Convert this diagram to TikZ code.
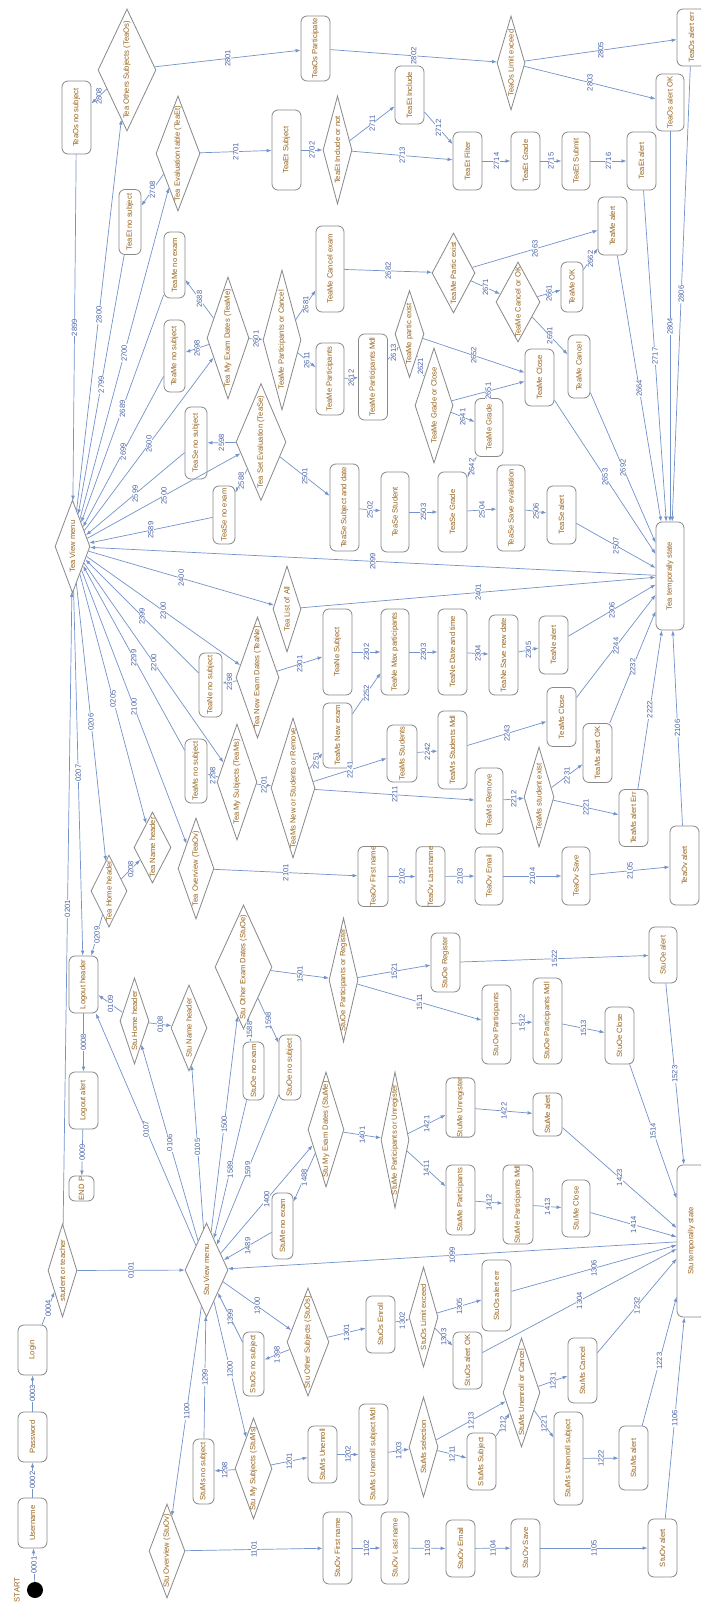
\documentclass[tikz,border=0pt]{standalone}
\usepackage{fontspec}
\setmainfont{Liberation Sans}
\usetikzlibrary{shapes.geometric,arrows.meta}
\definecolor{edgec}{HTML}{7493CC}
\definecolor{labc}{HTML}{4A64A8}
\definecolor{txtc}{HTML}{96621A}
\definecolor{bordc}{HTML}{8A8A8A}
\def\U{0.03cm}
\tikzset{
 bx/.style={draw=bordc, line width=0.7pt, rounded corners=1.8mm, rotate=90, inner sep=0pt, text=txtc, font=\fontsize{6.5}{7}\selectfont},
 dia/.style={draw=bordc, line width=0.7pt, diamond, rotate=90, inner sep=0pt},
 dtxt/.style={rotate=90, inner sep=0pt, text=txtc, font=\fontsize{6.5}{7}\selectfont},
 ed/.style={draw=edgec, line width=0.6pt, -{Latex[length=1.5mm,width=1.1mm]}},
 lab/.style={rotate=90, fill=white, inner sep=0.4pt, text=labc, font=\fontsize{6.5}{7}\selectfont},
}
\newcommand{\mkB}[6]{\node[bx, minimum width=#5*\U, minimum height=#4*\U] (#1) at (#2,#3) {#6};}
\newcommand{\mkD}[6]{\node[dia, minimum width=#5*\U, minimum height=#4*\U] (#1) at (#2,#3) {}; \node[dtxt] at (#1.center) {#6};}
\newcommand{\mkE}[3]{\draw[ed] (#1) -- node[lab]{#3} (#2);}
\begin{document}
\begin{tikzpicture}[x=0.03cm,y=-0.03cm]
\fill[white] (0,0) rectangle (700,1605);
\useasboundingbox (0,0) rectangle (700,1605);
% ---------- boxes ----------
\mkB{teaOsNo}{76.5}{117.5}{29}{73}{TeaOs no subject}
\mkB{teaOsPart}{315.5}{48.5}{29}{65}{TeaOs Participate}
\mkB{teaOsErr}{691.5}{37.5}{29}{57}{TeaOs alert err}
\mkB{teaOsOK}{670}{102.5}{28}{57}{TeaOs alert OK}
\mkB{teaEtNo}{130}{222}{22}{65}{TeaEt no subject}
\mkB{teaEtSub}{286.5}{150}{29}{80}{TeaEt Subject}
\mkB{teaEtInc}{409.5}{95}{29}{58}{TeaEt Include}
\mkB{teaEtFil}{467.5}{161}{29}{58}{TeaEt Filter}
\mkB{teaEtGr}{525.5}{161}{29}{58}{TeaEt Grade}
\mkB{teaEtSubm}{576}{161}{28}{58}{TeaEt Submit}
\mkB{teaEtAl}{641.5}{161}{29}{58}{TeaEt alert}
\mkB{teaMeNoEx}{174.5}{265}{21}{66}{TeaMe no exam}
\mkB{teaMeNoSub}{174.5}{356}{21}{72}{TeaMe no subject}
\mkB{teaMeCanEx}{330}{269}{28}{86}{TeaMe Cancel exam}
\mkB{teaMePart}{330}{379}{28}{72}{TeaMe Participants}
\mkB{teaMeMdl}{373}{377}{29}{86}{TeaMe Participants Mdl}
\mkB{teaMeGr}{489}{427.5}{28}{58}{TeaMe Grade}
\mkB{teaMeClose}{539.5}{377.5}{29}{57}{TeaMe Close}
\mkB{teaMeOK}{572}{287}{22}{50}{TeaMe OK}
\mkB{teaMeCan}{579}{366.5}{22}{63}{TeaMe Cancel}
\mkB{teaMeAl}{612.5}{226}{29}{58}{TeaMe alert}
\mkB{teaSeNoSub}{196}{443}{22}{72}{TeaSe no subject}
\mkB{teaSeNoEx}{224}{515}{22}{58}{TeaSe no exam}
\mkB{teaSeSub}{344.5}{507.5}{29}{87}{TeaSe Subject and date}
\mkB{teaSeStu}{395}{512}{28}{80}{TeaSe Student}
\mkB{teaSeGr}{452.5}{512}{29}{80}{TeaSe Grade}
\mkB{teaSeSave}{511}{508}{28}{86}{TeaSe Save evaluation}
\mkB{teaSeAl}{561.5}{515}{29}{58}{TeaSe alert}
\mkB{teaTemp}{670}{576}{28}{108}{Tea temporally state}
\mkB{teaNeNoSub}{210.5}{685}{23}{64}{TeaNe no subject}
\mkB{teaNeSub}{337.5}{652}{29}{86}{TeaNe Subject}
\mkB{teaNeMax}{395}{652}{28}{86}{TeaNe Max participants}
\mkB{teaNeDate}{452.5}{652}{29}{86}{TeaNe Date and time}
\mkB{teaNeSave}{503.5}{655}{29}{80}{TeaNe Save new date}
\mkB{teaNeAl}{553.5}{645}{29}{58}{TeaNe alert}
\mkB{teaMsNoSub}{196}{771}{22}{64}{TeaMs no subject}
\mkB{teaMsNew}{337.5}{735.5}{29}{65}{TeaMs New exam}
\mkB{teaMsStu}{402}{753.5}{30}{57}{TeaMs Students}
\mkB{teaMsMdl}{452.5}{750}{29}{78}{TeaMs Students Mdl}
\mkB{teaMsClose}{561.5}{717}{29}{59}{TeaMs Close}
\mkB{teaMsOK}{597.5}{753}{29}{59}{TeaMs alert OK}
\mkB{teaMsRem}{489}{801}{28}{66}{TeaMs Remove}
\mkB{teaMsErr}{633.5}{818}{29}{57}{TeaMs alert Err}
\mkB{teaOvFirst}{373}{876.5}{30}{59}{TeaOv First name}
\mkB{teaOvLast}{430.5}{876.5}{29}{59}{TeaOv Last name}
\mkB{teaOvEmail}{489}{876}{28}{58}{TeaOv Email}
\mkB{teaOvSave}{576}{876}{28}{58}{TeaOv Save}
\mkB{teaOvAl}{684.5}{865.5}{29}{79}{TeaOv alert}
\mkB{logoutH}{83.5}{984.5}{29}{57}{Logout header}
\mkB{logoutA}{83.5}{1100.5}{29}{57}{Logout alert}
\mkB{endP}{81.5}{1188.5}{25}{25}{END P}
\mkB{stuOeNoEx}{253.5}{1071}{21}{58}{StuOe no exam}
\mkB{stuOeNoSub}{290}{1067.5}{22}{65}{StuOe no subject}
\mkB{stuOeReg}{445.5}{962.5}{29}{59}{StuOe Register}
\mkB{stuOeAl}{663}{955}{28}{56}{StuOe alert}
\mkB{stuOePart}{496.5}{1024.5}{29}{79}{StuOe Participants}
\mkB{stuOeMdl}{547.5}{1021}{29}{86}{StuOe Participants Mdl}
\mkB{stuOeClose}{619.5}{1035.5}{29}{57}{StuOe Close}
\mkB{stuMeUnreg}{460.5}{1107.5}{29}{59}{StuMe Unregister}
\mkB{stuMeAl}{547.5}{1114.5}{29}{43}{StuMe alert}
\mkB{stuMePart}{460.5}{1200}{29}{70}{StuMe Participants}
\mkB{stuMeMdl}{518}{1204.5}{30}{79}{StuMe Participants Mdl}
\mkB{stuMeClose}{576}{1208.5}{28}{57}{StuMe Close}
\mkB{stuMeNoEx}{282.5}{1226}{21}{66}{StuMe no exam}
\mkB{stuTemp}{691.5}{1241}{29}{152}{Stu temporally state}
\mkB{username}{32.5}{1523}{29}{50}{Username}
\mkB{password}{32.5}{1437}{29}{50}{Password}
\mkB{login}{32.5}{1350}{29}{50}{Login}
\mkB{stuMsNo}{203.5}{1471.5}{21}{65}{StuMs no subject}
\mkB{stuOsNo}{253.5}{1364}{21}{64}{StuOs no subject}
\mkB{stuOsEnroll}{380.5}{1324.5}{29}{57}{StuOs Enroll}
\mkB{stuOsOK}{467.5}{1360.5}{29}{57}{StuOs alert OK}
\mkB{stuOsErr}{496.5}{1295.5}{29}{71}{StuOs alert err}
\mkB{stuMsUnenr}{322.5}{1454.5}{29}{57}{StuMs Unenroll}
\mkB{stuMsMdl}{373.5}{1454.5}{29}{101}{StuMs Unenroll subject Mdl}
\mkB{stuMsSubj}{481.5}{1461.5}{29}{57}{StuMs Subject}
\mkB{stuMsCancel}{582.5}{1370.5}{29}{65}{StuMs Cancel}
\mkB{stuMsUnSub}{568.5}{1458.5}{29}{93}{StuMs Unenroll subject}
\mkB{stuMsAl}{633.5}{1458}{29}{64}{StuMs alert}
\mkB{stuOvFirst}{337.5}{1548}{29}{72}{StuOv First name}
\mkB{stuOvLast}{395}{1548}{28}{72}{StuOv Last name}
\mkB{stuOvEmail}{460.5}{1548.5}{29}{57}{StuOv Email}
\mkB{stuOvSave}{525.5}{1548}{29}{58}{StuOv Save}
\mkB{stuOvAl}{662.5}{1548}{29}{58}{StuOv alert}
% ---------- diamonds ----------
\mkD{teaOs}{127}{70}{58}{122}{Tea Others Subjects (TeaOs)}
\mkD{teaEt}{178}{153.5}{44}{115}{Tea Evaluation table (TeaEt)}
\mkD{teaEtIoN}{337.5}{150}{29}{108}{TeaEt Include or not}
\mkD{teaMe}{228}{338}{42}{122}{Tea My Exam Dates (TeaMe)}
\mkD{teaMePoC}{282}{340}{38}{140}{TeaMe Participants or Cancel}
\mkD{teaMePartEx}{453.5}{273}{43}{80}{TeaMe Partic exist}
\mkD{teaMeCoO}{518}{302}{44}{80}{TeaMe Cancel or OK}
\mkD{teaMepex}{409.5}{334}{29}{87}{TeaMe partic exist}
\mkD{teaMeGoC}{434}{405.5}{38}{115}{TeaMe Grade or Close}
\mkD{teaOsLim}{511}{63}{28}{94}{TeaOs Limit exceed}
\mkD{teaView}{72.5}{546.5}{35}{93}{Tea View menu}
\mkD{teaSe}{261}{442}{50}{117}{Tea Set Evaluation (TeaSe)}
\mkD{teaList}{287}{609}{28}{86}{Tea List of All}
\mkD{teaNe}{257.5}{677.5}{43}{121}{Tea New Exam Dates (TeaNe)}
\mkD{teaMs}{237}{782}{40}{116}{Tea My Subjects (TeaMs)}
\mkD{teaMsNSR}{293}{788}{44}{140}{TeaMs New or Students or Remove}
\mkD{teaMsEx}{539}{797}{30}{100}{TeaMs student exist}
\mkD{teaHome}{109}{891}{36}{72}{Tea Home header}
\mkD{teaName}{152.5}{847.5}{37}{71}{Tea Name header}
\mkD{teaOv}{196}{868.5}{36}{101}{Tea Overview (TeaOv)}
\mkD{stuHome}{134.5}{1021}{29}{86}{Stu Home header}
\mkD{stuName}{189}{1028}{36}{86}{Stu Name header}
\mkD{stuOe}{243.5}{967}{57}{124}{Stu Other Exam Dates (StuOe)}
\mkD{stuOePoR}{343.5}{980}{29}{124}{StuOe Participants or Register}
\mkD{stuMe}{326}{1129.5}{36}{115}{Stu My Exam Dates (StuMe)}
\mkD{stuMePoU}{395}{1140}{28}{136}{StuMe Participants or Unregister}
\mkD{sot}{62.5}{1270.5}{29}{93}{student or teacher}
\mkD{stuView}{206.5}{1270}{43}{94}{Stu View menu}
\mkD{stuOv}{167}{1551}{36}{94}{Stu Overview (StuOv)}
\mkD{stuOs}{308}{1342}{42}{108}{Stu Other Subjects (StuOs)}
\mkD{stuOsLim}{423.5}{1317}{29}{100}{StuOs Limit exceed}
\mkD{stuMs}{253.5}{1468.5}{37}{101}{Stu My Subjects (StuMs)}
\mkD{stuMsSel}{423.5}{1447}{29}{100}{StuMs selection}
\mkD{stuMsUoC}{521.5}{1392.5}{37}{109}{StuMs Unenroll or Cancel}
% ---------- start ----------
\node[circle, fill=black, minimum size=16*\U, inner sep=0pt] (start) at (35,1590) {};
\node[dtxt] (startlbl) at (17,1590) {START};
% ---------- edges: login / headers ----------
\mkE{start}{username}{0001}
\mkE{username}{password}{0002}
\mkE{password}{login}{0003}
\mkE{login}{sot}{0004}
\mkE{sot}{stuView}{0101}
\mkE{sot}{teaView}{0201}
\mkE{stuView}{stuName}{0105}
\mkE{stuView}{stuHome}{0106}
\mkE{stuView}{logoutH}{0107}
\mkE{stuHome}{stuName}{0108}
\mkE{stuHome}{logoutH}{0109}
\mkE{logoutH}{logoutA}{0008}
\mkE{logoutA}{endP}{0009}
\mkE{teaView}{teaName}{0205}
\mkE{teaView}{teaHome}{0206}
\mkE{teaView}{logoutH}{0207}
\mkE{teaHome}{teaName}{0208}
\mkE{teaHome}{logoutH}{0209}
% ---------- Tea Os ----------
\mkE{teaView}{teaOs}{2800}
\mkE{teaOsNo}{teaView}{2899}
\mkE{teaOs}{teaOsNo}{2808}
\mkE{teaOs}{teaOsPart}{2801}
\mkE{teaOsPart}{teaOsLim}{2802}
\mkE{teaOsLim}{teaOsOK}{2803}
\mkE{teaOsLim}{teaOsErr}{2805}
\mkE{teaOsOK}{teaTemp}{2804}
\mkE{teaOsErr}{teaTemp}{2806}
% ---------- Tea Et ----------
\mkE{teaView}{teaEt}{2700}
\mkE{teaEtNo}{teaView}{2799}
\mkE{teaEt}{teaEtNo}{2708}
\mkE{teaEt}{teaEtSub}{2701}
\mkE{teaEtSub}{teaEtIoN}{2702}
\mkE{teaEtIoN}{teaEtInc}{2711}
\mkE{teaEtInc}{teaEtFil}{2712}
\mkE{teaEtIoN}{teaEtFil}{2713}
\mkE{teaEtFil}{teaEtGr}{2714}
\mkE{teaEtGr}{teaEtSubm}{2715}
\mkE{teaEtSubm}{teaEtAl}{2716}
\mkE{teaEtAl}{teaTemp}{2717}
% ---------- Tea Me ----------
\mkE{teaView}{teaMe}{2600}
\mkE{teaMeNoEx}{teaView}{2689}
\mkE{teaMeNoSub}{teaView}{2699}
\mkE{teaMe}{teaMeNoEx}{2688}
\mkE{teaMe}{teaMeNoSub}{2698}
\mkE{teaMe}{teaMePoC}{2601}
\mkE{teaMePoC}{teaMeCanEx}{2681}
\mkE{teaMePoC}{teaMePart}{2611}
\mkE{teaMePart}{teaMeMdl}{2612}
\mkE{teaMeMdl}{teaMepex}{2613}
\mkE{teaMepex}{teaMeGoC}{2621}
\mkE{teaMeGoC}{teaMeGr}{2641}
\mkE{teaMeGr}{teaSeGr}{2642}
\mkE{teaMeGoC}{teaMeClose}{2651}
\mkE{teaMepex}{teaMeClose}{2652}
\mkE{teaMeClose}{teaTemp}{2653}
\mkE{teaMeCanEx}{teaMePartEx}{2682}
\mkE{teaMePartEx}{teaMeAl}{2663}
\mkE{teaMePartEx}{teaMeCoO}{2671}
\mkE{teaMeCoO}{teaMeOK}{2661}
\mkE{teaMeOK}{teaMeAl}{2662}
\mkE{teaMeCoO}{teaMeCan}{2691}
\mkE{teaMeCan}{teaTemp}{2692}
\mkE{teaMeAl}{teaTemp}{2664}
% ---------- Tea Se ----------
\mkE{teaView}{teaSe}{2500}
\mkE{teaSeNoSub}{teaView}{2599}
\mkE{teaSeNoEx}{teaView}{2589}
\mkE{teaSe}{teaSeNoSub}{2598}
\mkE{teaSe}{teaSeNoEx}{2588}
\mkE{teaSe}{teaSeSub}{2501}
\mkE{teaSeSub}{teaSeStu}{2502}
\mkE{teaSeStu}{teaSeGr}{2503}
\mkE{teaSeGr}{teaSeSave}{2504}
\mkE{teaSeSave}{teaSeAl}{2506}
\mkE{teaSeAl}{teaTemp}{2507}
% ---------- Tea List ----------
\mkE{teaView}{teaList}{2400}
\mkE{teaList}{teaTemp}{2401}
\mkE{teaTemp}{teaView}{2099}
% ---------- Tea Ne ----------
\mkE{teaView}{teaNe}{2300}
\mkE{teaNeNoSub}{teaView}{2399}
\mkE{teaNe}{teaNeNoSub}{2398}
\mkE{teaNe}{teaNeSub}{2301}
\mkE{teaNeSub}{teaNeMax}{2302}
\mkE{teaNeMax}{teaNeDate}{2303}
\mkE{teaNeDate}{teaNeSave}{2304}
\mkE{teaNeSave}{teaNeAl}{2305}
\mkE{teaNeAl}{teaTemp}{2306}
% ---------- Tea Ms ----------
\mkE{teaView}{teaMs}{2200}
\mkE{teaMsNoSub}{teaView}{2299}
\mkE{teaMs}{teaMsNoSub}{2298}
\mkE{teaMs}{teaMsNSR}{2201}
\mkE{teaMsNSR}{teaMsNew}{2251}
\mkE{teaMsNew}{teaNeMax}{2252}
\mkE{teaMsNSR}{teaMsStu}{2241}
\mkE{teaMsStu}{teaMsMdl}{2242}
\mkE{teaMsMdl}{teaMsClose}{2243}
\mkE{teaMsClose}{teaTemp}{2244}
\mkE{teaMsNSR}{teaMsRem}{2211}
\mkE{teaMsRem}{teaMsEx}{2212}
\mkE{teaMsEx}{teaMsOK}{2231}
\mkE{teaMsOK}{teaTemp}{2232}
\mkE{teaMsEx}{teaMsErr}{2221}
\mkE{teaMsErr}{teaTemp}{2222}
% ---------- Tea Ov ----------
\mkE{teaView}{teaOv}{2100}
\mkE{teaOv}{teaOvFirst}{2101}
\mkE{teaOvFirst}{teaOvLast}{2102}
\mkE{teaOvLast}{teaOvEmail}{2103}
\mkE{teaOvEmail}{teaOvSave}{2104}
\mkE{teaOvSave}{teaOvAl}{2105}
\mkE{teaOvAl}{teaTemp}{2106}
% ---------- Stu Ov ----------
\mkE{stuView}{stuOv}{1100}
\mkE{stuOv}{stuOvFirst}{1101}
\mkE{stuOvFirst}{stuOvLast}{1102}
\mkE{stuOvLast}{stuOvEmail}{1103}
\mkE{stuOvEmail}{stuOvSave}{1104}
\mkE{stuOvSave}{stuOvAl}{1105}
\mkE{stuOvAl}{stuTemp}{1106}
% ---------- Stu Ms ----------
\mkE{stuView}{stuMs}{1200}
\mkE{stuMsNo}{stuView}{1299}
\mkE{stuMs}{stuMsNo}{1298}
\mkE{stuMs}{stuMsUnenr}{1201}
\mkE{stuMsUnenr}{stuMsMdl}{1202}
\mkE{stuMsMdl}{stuMsSel}{1203}
\mkE{stuMsSel}{stuMsSubj}{1211}
\mkE{stuMsSubj}{stuMsUoC}{1212}
\mkE{stuMsSel}{stuMsUoC}{1213}
\mkE{stuMsUoC}{stuMsUnSub}{1221}
\mkE{stuMsUnSub}{stuMsAl}{1222}
\mkE{stuMsAl}{stuTemp}{1223}
\mkE{stuMsUoC}{stuMsCancel}{1231}
\mkE{stuMsCancel}{stuTemp}{1232}
% ---------- Stu Os ----------
\mkE{stuView}{stuOs}{1300}
\mkE{stuOsNo}{stuView}{1399}
\mkE{stuOs}{stuOsNo}{1398}
\mkE{stuOs}{stuOsEnroll}{1301}
\mkE{stuOsEnroll}{stuOsLim}{1302}
\mkE{stuOsLim}{stuOsOK}{1303}
\mkE{stuOsOK}{stuTemp}{1304}
\mkE{stuOsLim}{stuOsErr}{1305}
\mkE{stuOsErr}{stuTemp}{1306}
\mkE{stuTemp}{stuView}{1099}
% ---------- Stu Me ----------
\mkE{stuView}{stuMe}{1400}
\mkE{stuMeNoEx}{stuView}{1489}
\mkE{stuMe}{stuMeNoEx}{1488}
\mkE{stuMe}{stuMePoU}{1401}
\mkE{stuMePoU}{stuMePart}{1411}
\mkE{stuMePart}{stuMeMdl}{1412}
\mkE{stuMeMdl}{stuMeClose}{1413}
\mkE{stuMeClose}{stuTemp}{1414}
\mkE{stuMePoU}{stuMeUnreg}{1421}
\mkE{stuMeUnreg}{stuMeAl}{1422}
\mkE{stuMeAl}{stuTemp}{1423}
% ---------- Stu Oe ----------
\mkE{stuView}{stuOe}{1500}
\mkE{stuOeNoEx}{stuView}{1589}
\mkE{stuOeNoSub}{stuView}{1599}
\mkE{stuOe}{stuOeNoEx}{1588}
\mkE{stuOe}{stuOeNoSub}{1598}
\mkE{stuOe}{stuOePoR}{1501}
\mkE{stuOePoR}{stuOePart}{1511}
\mkE{stuOePart}{stuOeMdl}{1512}
\mkE{stuOeMdl}{stuOeClose}{1513}
\mkE{stuOeClose}{stuTemp}{1514}
\mkE{stuOePoR}{stuOeReg}{1521}
\mkE{stuOeReg}{stuOeAl}{1522}
\mkE{stuOeAl}{stuTemp}{1523}
\end{tikzpicture}
\end{document}
